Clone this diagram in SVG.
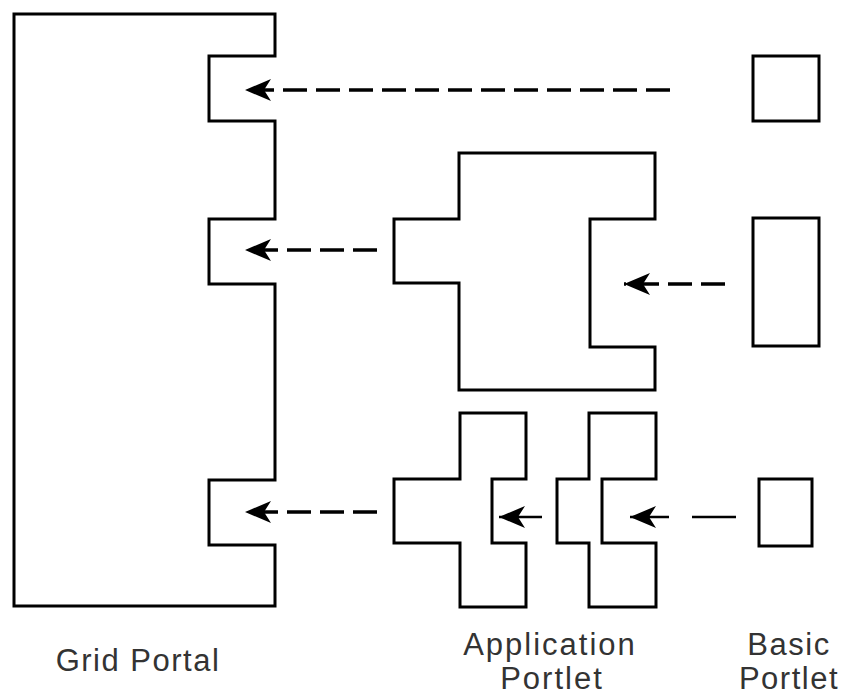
<svg xmlns="http://www.w3.org/2000/svg" width="841" height="698" viewBox="0 0 841 698">
<style>
.shape{fill:none;stroke:#000;stroke-width:3;stroke-linejoin:miter}
.dash{fill:none;stroke:#000;stroke-width:3.5;stroke-dasharray:24 9}
.solid{fill:none;stroke:#000;stroke-width:2.5}
.lbl{font-family:"Liberation Sans",Arial,sans-serif;font-size:31px;fill:#333;text-anchor:middle}
</style>
<defs>
<marker id="ah" markerUnits="userSpaceOnUse" viewBox="-28 -12 30 24" refX="0" refY="0" markerWidth="30" markerHeight="24" orient="auto">
<path d="M0,0 L-26,-11 L-19,0 L-26,11 Z" fill="#000"/>
</marker>
</defs>
<rect width="841" height="698" fill="#fff"/>
<g id="grid-portal">
<path class="shape" d="M14,14 H275 V56 H209 V121 H275 V219 H209 V284 H275 V480 H209 V545 H275 V606 H14 Z"/>
</g>
<g id="app-portlet-large">
<path class="shape" d="M459,153 H655 V219 H590 V347 H655 V390 H459 V283 H394 V219 H459 Z"/>
</g>
<g id="app-portlet-cross1">
<path class="shape" d="M460,413 H526 V479 H492 V543 H526 V607 H460 V543 H394 V479 H460 Z"/>
</g>
<g id="app-portlet-cross2">
<path class="shape" d="M589,413 H656 V479 H602 V543 H656 V607 H589 V543 H557 V479 H589 Z"/>
</g>
<g id="basic-portlet-1">
<rect class="shape" x="753" y="56" width="66" height="65"/>
</g>
<g id="basic-portlet-2">
<rect class="shape" x="753" y="218" width="66" height="128"/>
</g>
<g id="basic-portlet-3">
<rect class="shape" x="759" y="479" width="53" height="67"/>
</g>
<g id="connectors">
<line class="dash" x1="670" y1="90" x2="245" y2="90" marker-end="url(#ah)"/>
<line class="dash" x1="377" y1="250" x2="245" y2="250" marker-end="url(#ah)"/>
<line class="dash" x1="377" y1="512" x2="245" y2="512" marker-end="url(#ah)"/>
<line class="dash" x1="725" y1="284" x2="624" y2="284" marker-end="url(#ah)"/>
<line class="solid" x1="542" y1="517" x2="499" y2="517" marker-end="url(#ah)"/>
<line class="solid" x1="669" y1="517" x2="630" y2="517" marker-end="url(#ah)"/>
<line class="solid" x1="692" y1="517" x2="736" y2="517"/>
</g>
<g id="labels">
<text class="lbl" x="138" y="671" style="letter-spacing:1.5px">Grid Portal</text>
<text class="lbl" x="550" y="655" style="letter-spacing:2px">Application</text>
<text class="lbl" x="552" y="689" style="letter-spacing:2px">Portlet</text>
<text class="lbl" x="789" y="655" style="letter-spacing:1.5px">Basic</text>
<text class="lbl" x="789" y="689" style="letter-spacing:1.5px">Portlet</text>
</g>
</svg>
